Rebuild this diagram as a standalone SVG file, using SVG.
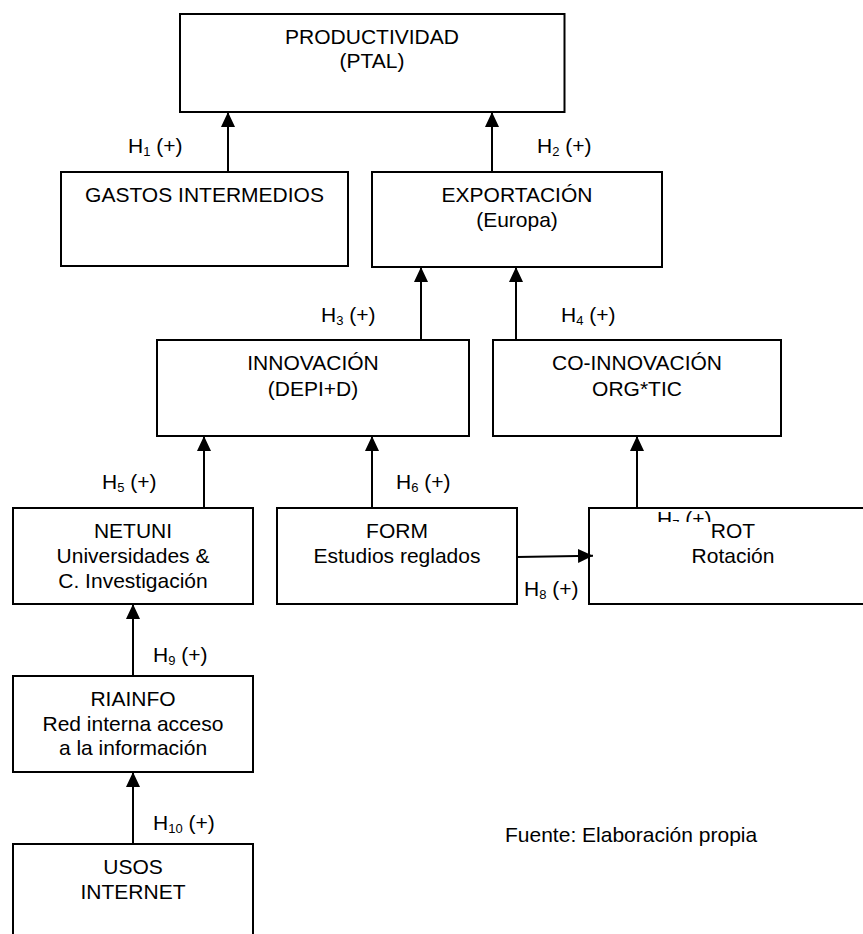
<svg xmlns="http://www.w3.org/2000/svg" width="863" height="934" viewBox="0 0 863 934">
<style>
.box{fill:#fff;stroke:#000;stroke-width:2}
.t{font-family:"Liberation Sans",Arial,sans-serif;font-size:21px;fill:#000;text-anchor:middle}
.h{font-family:"Liberation Sans",Arial,sans-serif;font-size:21px;fill:#000}
.sub{font-size:13px}
.c{stroke:#000;stroke-width:2;fill:none;marker-end:url(#ah)}
</style>
<defs>
<marker id="ah" viewBox="0 0 15 14" refX="15" refY="7" markerWidth="15" markerHeight="14" markerUnits="userSpaceOnUse" orient="auto">
<path d="M0,0 L15,7 L0,14 z" fill="#000"/>
</marker>
<clipPath id="h7clip"><rect x="640" y="509" width="80" height="13"/></clipPath>
</defs>
<rect width="863" height="934" fill="#fff"/>
<g id="productividad">
<rect class="box" x="180" y="14" width="384.5" height="98"/>
<text class="t" x="372" y="43.5">PRODUCTIVIDAD</text>
<text class="t" x="372" y="68">(PTAL)</text>
</g>
<g id="gastos">
<rect class="box" x="61" y="172" width="287" height="94"/>
<text class="t" x="204.5" y="201.5">GASTOS INTERMEDIOS</text>
</g>
<g id="exportacion">
<rect class="box" x="372" y="172" width="290" height="95"/>
<text class="t" x="517" y="201.5">EXPORTACIÓN</text>
<text class="t" x="517" y="226.5">(Europa)</text>
</g>
<g id="innovacion">
<rect class="box" x="157" y="340" width="312" height="96"/>
<text class="t" x="313" y="370">INNOVACIÓN</text>
<text class="t" x="313" y="395.5">(DEPI+D)</text>
</g>
<g id="coinnovacion">
<rect class="box" x="493" y="340" width="288" height="96"/>
<text class="t" x="637" y="370">CO-INNOVACIÓN</text>
<text class="t" x="637" y="395.5">ORG*TIC</text>
</g>
<g id="netuni">
<rect class="box" x="13" y="508" width="240" height="96"/>
<text class="t" x="133" y="538">NETUNI</text>
<text class="t" x="133" y="563">Universidades &amp;</text>
<text class="t" x="133" y="587.5">C. Investigación</text>
</g>
<g id="form">
<rect class="box" x="277" y="508" width="240" height="96"/>
<text class="t" x="397" y="538">FORM</text>
<text class="t" x="397" y="563">Estudios reglados</text>
</g>
<g id="rot">
<rect class="box" x="589" y="508" width="290" height="96"/>
<text class="t" x="733" y="538">ROT</text>
<text class="t" x="733" y="562.5">Rotación</text>
</g>
<g id="riainfo">
<rect class="box" x="13" y="676" width="240" height="96"/>
<text class="t" x="133" y="706">RIAINFO</text>
<text class="t" x="133" y="730.5">Red interna acceso</text>
<text class="t" x="133" y="754.5">a la información</text>
</g>
<g id="usos">
<rect class="box" x="13" y="844" width="240" height="110"/>
<text class="t" x="133" y="873.5">USOS</text>
<text class="t" x="133" y="899">INTERNET</text>
</g>
<g id="connectors">
<line class="c" x1="228" y1="172" x2="228" y2="112"/>
<line class="c" x1="492" y1="172" x2="492" y2="112"/>
<line class="c" x1="421" y1="340" x2="421" y2="267"/>
<line class="c" x1="516" y1="340" x2="516" y2="267"/>
<line class="c" x1="204" y1="508" x2="204" y2="436"/>
<line class="c" x1="372" y1="508" x2="372" y2="436"/>
<line class="c" x1="637" y1="508" x2="637" y2="436"/>
<line class="c" x1="517" y1="557" x2="593" y2="555.7"/>
<line class="c" x1="133" y1="676" x2="133" y2="604"/>
<line class="c" x1="133" y1="844" x2="133" y2="772"/>
</g>
<g id="labels">
<text class="h" x="128" y="153">H<tspan class="sub" dy="3">1</tspan><tspan dy="-3"> (+)</tspan></text>
<text class="h" x="537" y="153">H<tspan class="sub" dy="3">2</tspan><tspan dy="-3"> (+)</tspan></text>
<text class="h" x="321" y="322">H<tspan class="sub" dy="3">3</tspan><tspan dy="-3"> (+)</tspan></text>
<text class="h" x="561" y="322">H<tspan class="sub" dy="3">4</tspan><tspan dy="-3"> (+)</tspan></text>
<text class="h" x="102" y="489">H<tspan class="sub" dy="3">5</tspan><tspan dy="-3"> (+)</tspan></text>
<text class="h" x="396" y="489">H<tspan class="sub" dy="3">6</tspan><tspan dy="-3"> (+)</tspan></text>
<text class="h" x="657" y="526" clip-path="url(#h7clip)">H<tspan class="sub" dy="3">7</tspan><tspan dy="-3"> (+)</tspan></text>
<text class="h" x="524" y="596">H<tspan class="sub" dy="3">8</tspan><tspan dy="-3"> (+)</tspan></text>
<text class="h" x="153" y="662">H<tspan class="sub" dy="3">9</tspan><tspan dy="-3"> (+)</tspan></text>
<text class="h" x="153" y="830">H<tspan class="sub" dy="3">10</tspan><tspan dy="-3"> (+)</tspan></text>
<text class="h" x="505" y="842">Fuente: Elaboración propia</text>
</g>
</svg>
